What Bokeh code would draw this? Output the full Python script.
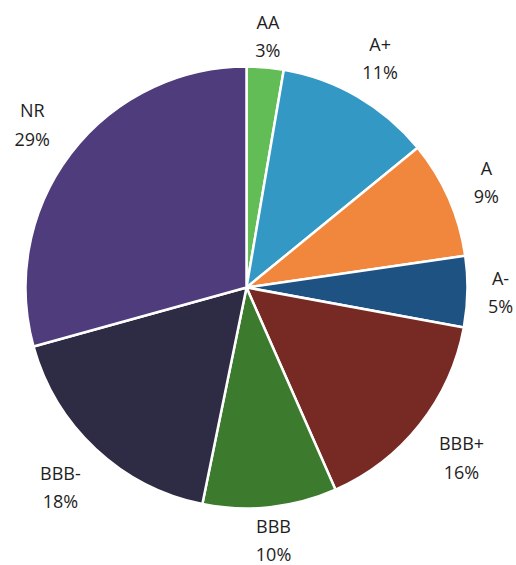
import numpy as np
from bokeh.plotting import figure
from bokeh.models import ColumnDataSource, Range1d
from bokeh.core.properties import value
from bokeh.embed import file_html
from bokeh.resources import INLINE

# Data (clockwise from 12 o'clock)
categories = ["AA", "A+", "A", "A-", "BBB+", "BBB", "BBB-", "NR"]
shares = [2.7, 11.4, 8.6, 5.2, 15.5, 9.8, 17.5, 29.3]
pct_labels = ["3%", "11%", "9%", "5%", "16%", "10%", "18%", "29%"]
colors = ["#62BD56", "#3399C4", "#F0873C", "#1E5282",
          "#772A24", "#3C7A2E", "#2E2B45", "#4F3C7C"]

W, H = 516, 565
CX, CY = 246, 287   # pie centre in pixels from top-left
R = 221

frac = np.array(shares) / np.sum(shares)
cum = np.concatenate([[0.0], np.cumsum(frac)])
start = np.pi / 2 - cum[:-1] * 2 * np.pi
end = np.pi / 2 - cum[1:] * 2 * np.pi
mid = (start + end) / 2

# label placement: just outside the rim, along each slice's middle direction
ux, uy = np.cos(mid), np.sin(mid)
half_w = np.array([max(len(c), len(l)) for c, l in zip(categories, pct_labels)]) * 6.3
half_h = 9.0
gap = 20.0
ext = half_w * np.abs(ux) + half_h * np.abs(uy) + 16.0 * np.abs(ux * uy)
d = R + gap + ext
lx, ly = d * ux, d * uy

src = ColumnDataSource(dict(cat=categories, start=start, end=end, color=colors))
lsrc = ColumnDataSource(dict(x=lx, y=ly, text=[f"{c}\n{l}" for c, l in zip(categories, pct_labels)]))

p = figure(width=W, height=H, output_backend="svg", toolbar_location=None,
           x_range=Range1d(-CX, W - CX), y_range=Range1d(-(H - CY), CY),
           min_border=0)
p.axis.visible = False
p.grid.visible = False
p.outline_line_color = None
p.background_fill_color = "white"
p.border_fill_color = "white"

p.wedge(x=0, y=0, radius=R, start_angle="start", end_angle="end", direction="clock",
        fill_color="color", line_color="white", line_width=2.5, source=src)

p.text(x="x", y="y", text="text", source=lsrc, text_align="center", text_baseline="middle",
       text_font=value("Open Sans"), text_font_size="18px", text_color="#1e1e1e",
       text_line_height=1.18)

open("out.html", "w").write(file_html(p, INLINE))
